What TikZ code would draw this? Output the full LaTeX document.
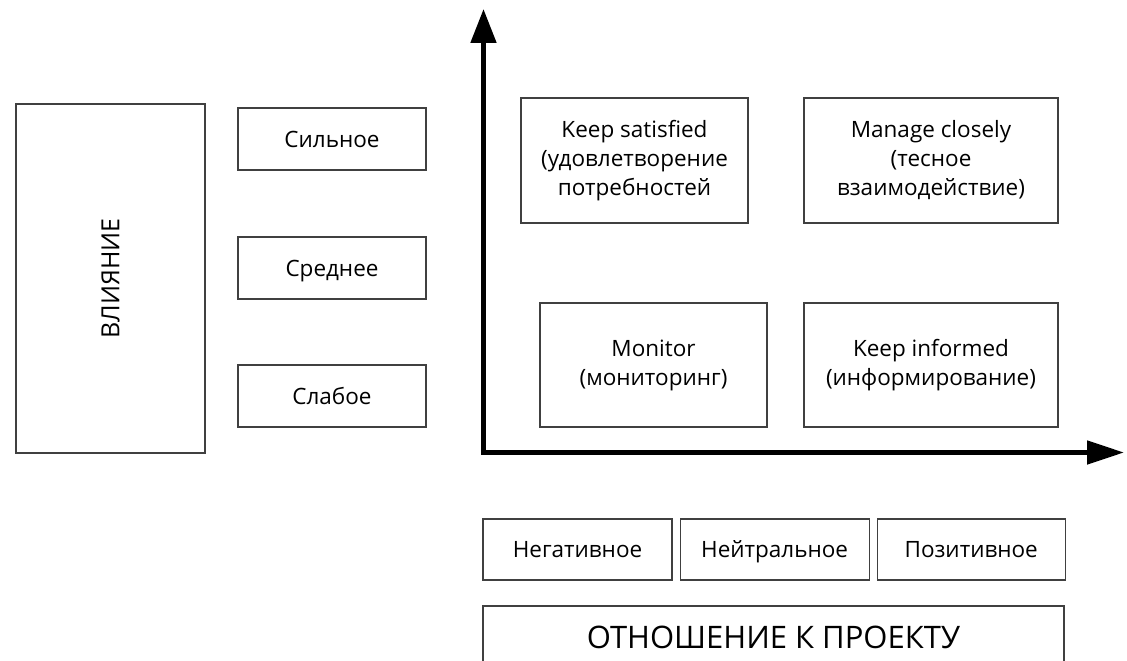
\documentclass[tikz,border=0pt]{standalone}
\usepackage{fontspec}
\setmainfont{Open Sans}
\usetikzlibrary{arrows.meta,positioning}

\begin{document}
\begin{tikzpicture}[x=1pt,y=-1pt,node distance=7pt,
  box/.style={draw=black!75,line width=1.1pt,inner sep=0pt,align=center,
    font=\fontsize{22.5}{29}\selectfont},
  single/.style={box,text height=16pt,text depth=0pt},
  level/.style={single,minimum width=188pt,minimum height=62pt},
  quad/.style={box,minimum width=227pt,minimum height=125pt},
  axis/.style={line width=5pt,line join=miter,
    {Triangle[length=34pt,width=25pt]}-{Triangle[length=37pt,width=23pt]}}]
  \useasboundingbox (0,0) rectangle (1127,661);
  \clip (0,0) rectangle (1127,661);

  % influence side
  \node [box,minimum width=189pt,minimum height=349pt] (infl) at (110.5,278.5)
    {\rotatebox{90}{\fontsize{25}{30}\selectfont ВЛИЯНИЕ}};
  \node [level] (strong) at (332,139) {Сильное};
  \node [level] (medium) at (332,268) {Среднее};
  \node [level] (weak) at (332,396) {Слабое};

  % matrix
  \node [quad] (ks) at (634.5,160.5) {Keep satisfied\\(удовлетворение\\потребностей};
  \node [quad,minimum width=254pt] (mc) at (931,160.5) {Manage closely\\(тесное\\взаимодействие)};
  \node [quad,minimum height=124pt] (mon) at (653.5,365) {Monitor\\(мониторинг)};
  \node [quad,minimum width=254pt,minimum height=124pt] (ki) at (931,365) {Keep informed\\(информирование)};

  % axes
  \coordinate (o) at (483.5,452.5);
  \coordinate (ytip) at (483.5,9);
  \coordinate (xtip) at (1124,452.5);
  \draw[axis] (ytip) -- (o) -- (xtip);

  % attitude side
  \node [single,minimum width=189pt,minimum height=61pt] (neg) at (577.5,549.5) {Негативное};
  \node [single,minimum width=189pt,minimum height=61pt,right=of neg] (neu) {Нейтральное};
  \node [single,minimum width=188pt,minimum height=61pt,right=of neu] (pos) {Позитивное};
  \node [single,minimum width=581pt,minimum height=62pt,text height=22pt,
    font=\fontsize{31}{38}\selectfont] (att) at (773.5,637) {ОТНОШЕНИЕ К ПРОЕКТУ};
\end{tikzpicture}
\end{document}
